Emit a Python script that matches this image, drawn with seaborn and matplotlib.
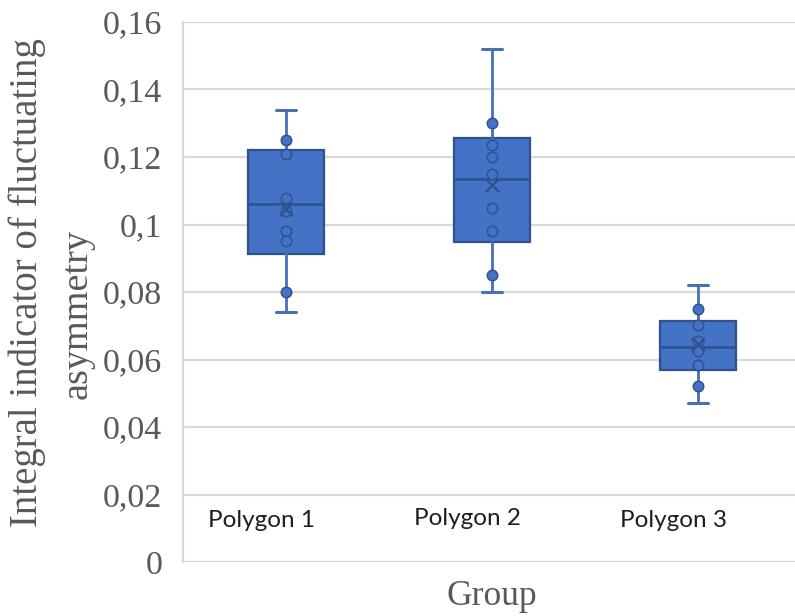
import matplotlib
matplotlib.use("Agg")
import matplotlib.pyplot as plt
import seaborn as sns
import pandas as pd
import numpy as np

# ---- data ----
groups = ["Polygon 1", "Polygon 2", "Polygon 3"]
whisker_low = [0.0742, 0.0800, 0.0472]
q1 = [0.0912, 0.0948, 0.0569]
median = [0.1060, 0.1136, 0.0636]
q3 = [0.1220, 0.1255, 0.0714]
whisker_high = [0.1340, 0.1520, 0.0822]
means = [0.1046, 0.1116, 0.0645]
points_p1 = [0.125, 0.121, 0.108, 0.104, 0.098, 0.095, 0.080]
points_p2 = [0.130, 0.1237, 0.120, 0.1149, 0.105, 0.0982, 0.085]
points_p3 = [0.0749, 0.0702, 0.0656, 0.0625, 0.0583, 0.0521]
y_ticks = [0, 0.02, 0.04, 0.06, 0.08, 0.10, 0.12, 0.14, 0.16]
y_tick_labels = ["0", "0,02", "0,04", "0,06", "0,08", "0,1", "0,12", "0,14", "0,16"]
y_label_line1 = "Integral indicator of fluctuating"
y_label_line2 = "asymmetry"
x_label = "Group"

sns.set_theme(style="white")
plt.rcParams['font.family'] = ['DejaVu Sans']

W, H = 795, 616
fig = plt.figure(figsize=(W / 100, H / 100), dpi=100)
ax = fig.add_axes([183 / W, (H - 562) / H, (795 - 183) / W, (562 - 22) / H])

FILL = "#4472C4"
EDGE = "#2F528F"
GRID = "#D9D9D9"
GRAY = "#595959"

# points
pts = pd.DataFrame({
    "group": [groups[0]] * len(points_p1) + [groups[1]] * len(points_p2) + [groups[2]] * len(points_p3),
    "value": points_p1 + points_p2 + points_p3,
})
sns.stripplot(data=pts, x="group", y="value", order=groups, jitter=False, ax=ax,
              color=FILL, edgecolor=EDGE, linewidth=1.1, size=7.5, zorder=5)

# boxes
stats = []
for i in range(len(groups)):
    stats.append(dict(med=median[i], q1=q1[i], q3=q3[i], whislo=whisker_low[i],
                      whishi=whisker_high[i], mean=means[i], fliers=[], label=groups[i]))
ax.bxp(stats, positions=range(len(groups)), widths=0.37, showmeans=False, patch_artist=True,
       showfliers=False,
       boxprops=dict(facecolor=FILL, edgecolor=EDGE, linewidth=1.6),
       medianprops=dict(color=EDGE, linewidth=1.8),
       whiskerprops=dict(color="#4A6FB5", linewidth=2.0),
       capprops=dict(color="#4A6FB5", linewidth=2.2),
       capwidths=0.10, zorder=3, manage_ticks=False)

# mean markers
mdf = pd.DataFrame({"x": list(range(len(groups))), "m": means})
ax.scatter(mdf["x"], mdf["m"], marker="x", s=90, color=EDGE, linewidths=1.6, zorder=6)

ax.set_xlim(-0.5, 2.47)
ax.set_ylim(0, 0.16)
ax.set_yticks(y_ticks)
ax.set_yticklabels(y_tick_labels, fontfamily="Liberation Serif", fontsize=24.5, color=GRAY)
ax.tick_params(axis="y", length=0, pad=15)
ax.set_xticks([])
ax.set_xlabel("")
ax.set_ylabel("")
ax.yaxis.grid(True, color=GRID, linewidth=1.6)
ax.set_axisbelow(True)
for s in ["top", "right", "bottom"]:
    ax.spines[s].set_visible(False)
ax.spines["left"].set_color(GRID)
ax.spines["left"].set_linewidth(1.6)

# category labels inside plot area
for i, g in enumerate(groups):
    ax.text(i - 0.12, 0.0122 if i != 1 else 0.0128, g, ha="center", va="center",
            fontfamily="Lato", fontsize=17.5, color="#1F1F1F")

# axis titles
fig.text(27 / W, 1 - 283 / H, y_label_line1, rotation=90, ha="center", va="center",
         fontfamily="Liberation Serif", fontsize=28, color=GRAY)
fig.text(77 / W, 1 - 314 / H, y_label_line2, rotation=90, ha="center", va="center",
         fontfamily="Liberation Serif", fontsize=27.5, color=GRAY)
fig.text(492 / W, 3 / H, x_label, ha="center", va="bottom",
         fontfamily="Liberation Serif", fontsize=25.5, color=GRAY)

fig.savefig("out.png", dpi=100)
